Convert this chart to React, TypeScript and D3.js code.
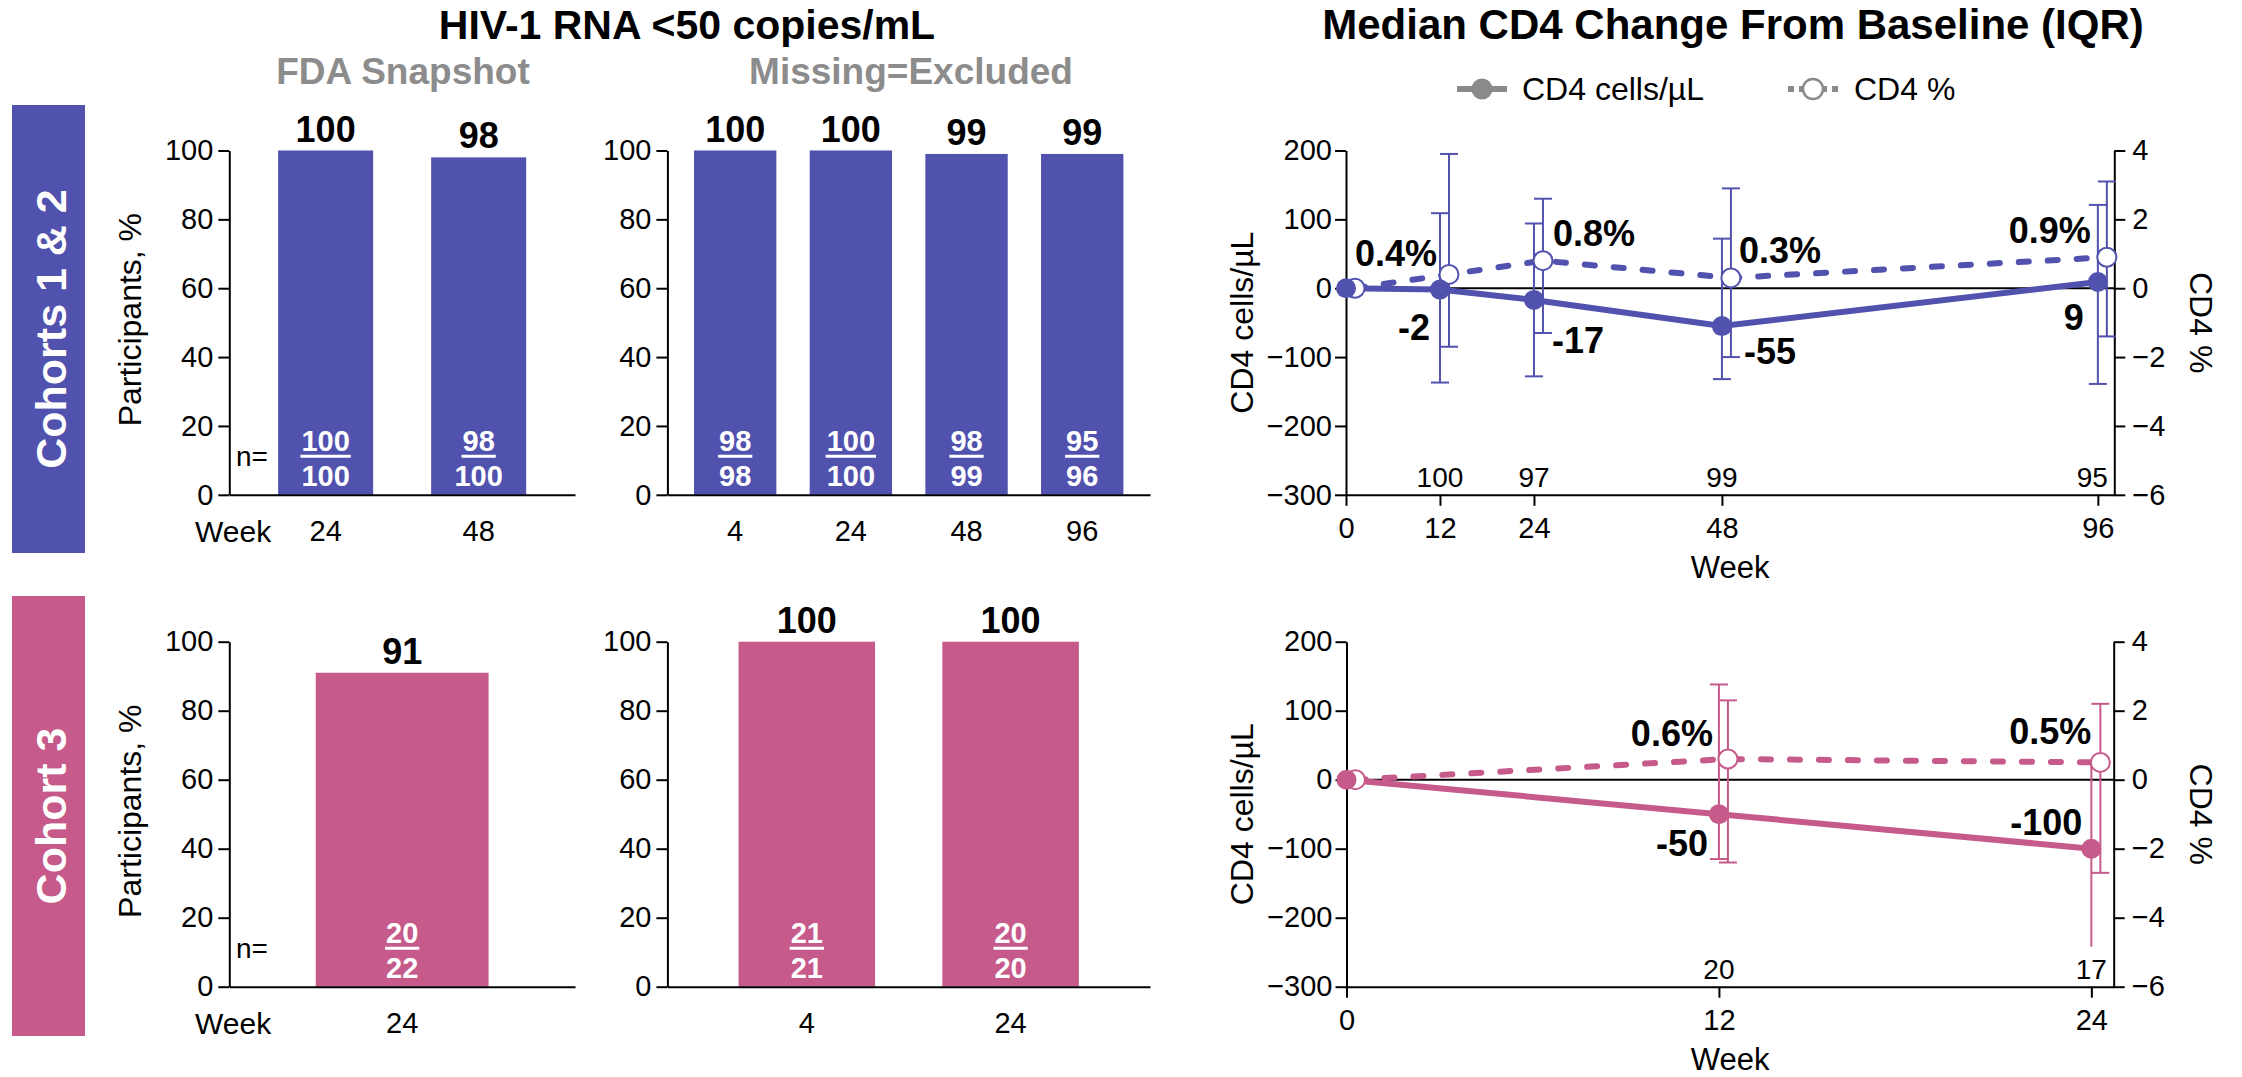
import React, { useEffect, useRef } from "react";
import * as d3 from "d3";

const PURPLE = "#5151ae";
const PINK = "#c65b8b";
const GREY = "#8a8a8a";
const SUB_GREY = "#8c8c8c";
const FONT = "Liberation Sans, Arial, Helvetica, sans-serif";

// ---- HIV-1 RNA <50 copies/mL (bars) ----
const pctTicks = [0, 20, 40, 60, 80, 100];

const fdaWeeks12 = ["24", "48"];
const fdaValues12 = [100, 98];
const fdaNum12 = [100, 98];
const fdaDen12 = [100, 100];

const meWeeks12 = ["4", "24", "48", "96"];
const meValues12 = [100, 100, 99, 99];
const meNum12 = [98, 100, 98, 95];
const meDen12 = [98, 100, 99, 96];

const fdaWeeks3 = ["24"];
const fdaValues3 = [91];
const fdaNum3 = [20];
const fdaDen3 = [22];

const meWeeks3 = ["4", "24"];
const meValues3 = [100, 100];
const meNum3 = [21, 20];
const meDen3 = [21, 20];

// ---- Median CD4 change from baseline (IQR) ----
const cellTicks = [-300, -200, -100, 0, 100, 200];
const cd4PctTicks = [-6, -4, -2, 0, 2, 4];

const cd4Weeks12 = [0, 12, 24, 48, 96];
const cellsMed12 = [0, -2, -17, -55, 9];
const cellsLo12 = [0, -137, -128, -132, -139];
const cellsHi12 = [0, 109, 94, 72, 121];
const cellsCapped12 = [true, true, true, true, true];
const pctMed12 = [0, 0.4, 0.8, 0.3, 0.9];
const pctLo12 = [0, -1.7, -1.3, -2.0, -1.4];
const pctHi12 = [0, 3.9, 2.6, 2.9, 3.1];
const nAt12 = ["", "100", "97", "99", "95"];

const cd4Weeks3 = [0, 12, 24];
const cellsMed3 = [0, -50, -100];
const cellsLo3 = [0, -115, -242];
const cellsHi3 = [0, 138, 26];
const cellsCapped3 = [true, true, false];
const pctMed3 = [0, 0.6, 0.5];
const pctLo3 = [0, -2.4, -2.7];
const pctHi3 = [0, 2.3, 2.2];
const nAt3 = ["", "20", "17"];

// label placement next to markers: [dx, dy, anchor]
type Lab = [number, number, string] | null;
const cellLab12: Lab[] = [null, [-10, 50, "end"], [18, 53, "start"], [22, 38, "start"], [-14, 48, "end"]];
const pctLab12: Lab[] = [null, [-12, -8, "end"], [10, -15, "start"], [8, -15, "start"], [-16, -14, "end"]];
const cellLab3: Lab[] = [null, [-11, 42, "end"], [-9, -14, "end"]];
const pctLab3: Lab[] = [null, [-15, -13, "end"], [-9, -18, "end"]];

function styleAxis(g: any, size = 29) {
  g.attr("font-size", size).attr("font-family", FONT);
  g.selectAll(".domain, .tick line").attr("stroke", "#000").attr("stroke-width", 2);
  g.selectAll("text").attr("fill", "#000");
}

function drawBars(svg: any, c: any) {
  const x = d3.scaleBand().domain(c.cats).range([c.x0, c.x1]).paddingInner(c.pIn).paddingOuter(c.pOut);
  const y = d3.scaleLinear().domain([0, 100]).range([c.yBot, c.yTop]);
  const g = svg.append("g");
  const idx = c.cats.map((_: any, i: number) => i);

  g.append("g").selectAll("rect").data(idx).join("rect")
    .attr("x", (i: number) => x(c.cats[i]))
    .attr("y", (i: number) => y(c.values[i]))
    .attr("width", x.bandwidth())
    .attr("height", (i: number) => c.yBot - y(c.values[i]))
    .attr("fill", c.color);

  const ya = g.append("g").attr("transform", `translate(${c.x0},0)`)
    .call(d3.axisLeft(y).tickValues(pctTicks).tickSize(11).tickSizeOuter(0).tickPadding(5));
  styleAxis(ya);
  const xa = g.append("g").attr("transform", `translate(0,${c.yBot})`)
    .call(d3.axisBottom(x).tickSize(0).tickSizeOuter(0).tickPadding(26));
  styleAxis(xa);

  // values above bars
  g.append("g").selectAll("text").data(idx).join("text")
    .attr("x", (i: number) => x(c.cats[i])! + x.bandwidth() / 2)
    .attr("y", (i: number) => y(c.values[i]) - 9)
    .attr("text-anchor", "middle").attr("font-family", FONT)
    .attr("font-weight", "bold").attr("font-size", 36)
    .text((i: number) => c.values[i]);

  // n fractions inside bars
  const fr = g.append("g").attr("font-family", FONT).attr("font-weight", "bold")
    .attr("font-size", 29).attr("fill", "#fff").attr("text-anchor", "middle");
  idx.forEach((i: number) => {
    const cx = x(c.cats[i])! + x.bandwidth() / 2;
    const t = fr.append("text").attr("x", cx).attr("y", c.yBot - 44).text(c.num[i]);
    const w = (t.node() as SVGTextElement).getComputedTextLength();
    fr.append("line").attr("x1", cx - w / 2 - 1).attr("x2", cx + w / 2 + 1)
      .attr("y1", c.yBot - 38.5).attr("y2", c.yBot - 38.5)
      .attr("stroke", "#fff").attr("stroke-width", 3);
    fr.append("text").attr("x", cx).attr("y", c.yBot - 9).text(c.den[i]);
  });

  if (c.showWeek) {
    g.append("text").attr("x", 236).attr("y", c.yBot - 29)
      .attr("font-family", FONT).attr("font-size", 28).text("n=");
    g.append("text").attr("x", 195).attr("y", c.yBot + 47)
      .attr("font-family", FONT).attr("font-size", 30).text("Week");
  }
}

function drawCD4(svg: any, c: any) {
  const x = d3.scaleLinear().domain([0, c.xMax]).range([c.x0, c.x1]);
  const yc = d3.scaleLinear().domain([-300, 200]).range([c.yBot, c.yTop]);
  const yp = d3.scaleLinear().domain([-6, 4]).range([c.yBot, c.yTop]);
  const off = 9;
  const g = svg.append("g");
  const idx = c.weeks.map((_: any, i: number) => i);

  const la = g.append("g").attr("transform", `translate(${c.x0},0)`)
    .call(d3.axisLeft(yc).tickValues(cellTicks).tickSize(11).tickSizeOuter(0).tickPadding(3));
  styleAxis(la);
  const ra = g.append("g").attr("transform", `translate(${c.x1},0)`)
    .call(d3.axisRight(yp).tickValues(cd4PctTicks).tickSize(11).tickSizeOuter(0).tickPadding(7));
  styleAxis(ra);
  const xa = g.append("g").attr("transform", `translate(0,${c.yBot})`)
    .call(d3.axisBottom(x).tickValues(c.weeks).tickSize(11).tickSizeOuter(0).tickPadding(12));
  styleAxis(xa);

  g.append("line").attr("x1", c.x0).attr("x2", c.x1).attr("y1", yc(0)).attr("y2", yc(0))
    .attr("stroke", "#000").attr("stroke-width", 2);

  // n at each visit
  g.append("g").selectAll("text").data(idx).join("text")
    .attr("x", (i: number) => Math.min(x(c.weeks[i]), c.x1 - 22))
    .attr("y", c.yBot - 8)
    .attr("text-anchor", "middle").attr("font-family", FONT).attr("font-size", 28)
    .text((i: number) => c.nAt[i]);

  // lines
  g.append("path").datum(idx)
    .attr("d", d3.line<number>().x((i) => x(c.weeks[i]) + off).y((i) => yp(c.pMed[i])))
    .attr("fill", "none").attr("stroke", c.color).attr("stroke-width", 6)
    .attr("stroke-dasharray", "10 19").attr("stroke-linecap", "round");
  g.append("path").datum(idx)
    .attr("d", d3.line<number>().x((i) => x(c.weeks[i])).y((i) => yc(c.cMed[i])))
    .attr("fill", "none").attr("stroke", c.color).attr("stroke-width", 6);

  // IQR bars
  const eb = g.append("g").attr("stroke", c.color).attr("stroke-width", 2);
  idx.forEach((i: number) => {
    if (c.cLo[i] !== c.cHi[i]) {
      const xx = x(c.weeks[i]);
      eb.append("line").attr("x1", xx).attr("x2", xx).attr("y1", yc(c.cLo[i])).attr("y2", yc(c.cHi[i]));
      if (c.cCap[i]) {
        [c.cLo[i], c.cHi[i]].forEach((v: number) =>
          eb.append("line").attr("x1", xx - 9).attr("x2", xx + 9).attr("y1", yc(v)).attr("y2", yc(v)));
      }
    }
    if (c.pLo[i] !== c.pHi[i]) {
      const xx = x(c.weeks[i]) + off;
      eb.append("line").attr("x1", xx).attr("x2", xx).attr("y1", yp(c.pLo[i])).attr("y2", yp(c.pHi[i]));
      [c.pLo[i], c.pHi[i]].forEach((v: number) =>
        eb.append("line").attr("x1", xx - 9).attr("x2", xx + 9).attr("y1", yp(v)).attr("y2", yp(v)));
    }
  });

  // markers
  g.append("g").selectAll("circle").data(idx).join("circle")
    .attr("cx", (i: number) => x(c.weeks[i]) + off).attr("cy", (i: number) => yp(c.pMed[i]))
    .attr("r", 9.5).attr("fill", "#fff").attr("stroke", c.color).attr("stroke-width", 2);
  g.append("g").selectAll("circle").data(idx).join("circle")
    .attr("cx", (i: number) => x(c.weeks[i])).attr("cy", (i: number) => yc(c.cMed[i]))
    .attr("r", 10).attr("fill", c.color);

  // value labels
  const lg = g.append("g").attr("font-family", FONT).attr("font-weight", "bold").attr("font-size", 36);
  idx.forEach((i: number) => {
    const a = c.cLab[i];
    if (a) lg.append("text").attr("x", x(c.weeks[i]) + a[0]).attr("y", yc(c.cMed[i]) + a[1])
      .attr("text-anchor", a[2]).text(String(c.cMed[i]));
    const b = c.pLab[i];
    if (b) lg.append("text").attr("x", x(c.weeks[i]) + off + b[0]).attr("y", yp(c.pMed[i]) + b[1])
      .attr("text-anchor", b[2]).text(`${c.pMed[i]}%`);
  });

  // axis titles
  const cy = (c.yTop + c.yBot) / 2;
  g.append("text").attr("transform", `translate(1253,${cy}) rotate(-90)`)
    .attr("text-anchor", "middle").attr("font-family", FONT).attr("font-size", 32).text("CD4 cells/µL");
  g.append("text").attr("transform", `translate(2190,${cy}) rotate(90)`)
    .attr("text-anchor", "middle").attr("font-family", FONT).attr("font-size", 32).text("CD4 %");
  g.append("text").attr("x", (c.x0 + c.x1) / 2).attr("y", c.yBot + 83)
    .attr("text-anchor", "middle").attr("font-family", FONT).attr("font-size", 31).text("Week");
}

export default function App() {
  const ref = useRef<SVGSVGElement>(null);

  useEffect(() => {
    const svg = d3.select(ref.current);
    svg.selectAll("*").remove();

    const R1 = { yTop: 150.5, yBot: 494.8 };
    const R2 = { yTop: 641.7, yBot: 986.7 };

    // titles
    svg.append("text").attr("x", 687).attr("y", 39).attr("text-anchor", "middle")
      .attr("font-family", FONT).attr("font-weight", "bold").attr("font-size", 41)
      .text("HIV-1 RNA <50 copies/mL");
    svg.append("text").attr("x", 403).attr("y", 84).attr("text-anchor", "middle")
      .attr("font-family", FONT).attr("font-weight", "bold").attr("font-size", 37)
      .attr("fill", SUB_GREY).text("FDA Snapshot");
    svg.append("text").attr("x", 911).attr("y", 84).attr("text-anchor", "middle")
      .attr("font-family", FONT).attr("font-weight", "bold").attr("font-size", 37)
      .attr("fill", SUB_GREY).text("Missing=Excluded");
    svg.append("text").attr("x", 1733).attr("y", 39).attr("text-anchor", "middle")
      .attr("font-family", FONT).attr("font-weight", "bold").attr("font-size", 42)
      .text("Median CD4 Change From Baseline (IQR)");

    // legend
    const lgd = svg.append("g");
    lgd.append("line").attr("x1", 1457).attr("x2", 1507).attr("y1", 89).attr("y2", 89)
      .attr("stroke", GREY).attr("stroke-width", 6);
    lgd.append("circle").attr("cx", 1482).attr("cy", 89).attr("r", 10.5).attr("fill", GREY);
    lgd.append("text").attr("x", 1522).attr("y", 100).attr("font-family", FONT)
      .attr("font-size", 32).text("CD4 cells/µL");
    lgd.append("line").attr("x1", 1788).attr("x2", 1838).attr("y1", 89).attr("y2", 89)
      .attr("stroke", GREY).attr("stroke-width", 6).attr("stroke-dasharray", "6 5");
    lgd.append("circle").attr("cx", 1813).attr("cy", 89).attr("r", 10).attr("fill", "#fff")
      .attr("stroke", GREY).attr("stroke-width", 2.5);
    lgd.append("text").attr("x", 1854).attr("y", 100).attr("font-family", FONT)
      .attr("font-size", 32).text("CD4 %");

    // cohort bands
    const bands = [
      { y0: 105, y1: 553, color: PURPLE, label: "Cohorts 1 & 2" },
      { y0: 596, y1: 1036, color: PINK, label: "Cohort 3" },
    ];
    bands.forEach((b) => {
      svg.append("rect").attr("x", 12).attr("y", b.y0).attr("width", 73).attr("height", b.y1 - b.y0)
        .attr("fill", b.color);
      svg.append("text").attr("transform", `translate(66,${(b.y0 + b.y1) / 2}) rotate(-90)`)
        .attr("text-anchor", "middle").attr("font-family", FONT).attr("font-weight", "bold")
        .attr("font-size", 43).attr("fill", "#fff").text(b.label);
    });

    // y titles for bars
    [R1, R2].forEach((r) => {
      svg.append("text").attr("transform", `translate(141,${(r.yTop + r.yBot) / 2 - 3}) rotate(-90)`)
        .attr("text-anchor", "middle").attr("font-family", FONT).attr("font-size", 32)
        .text("Participants, %");
    });

    drawBars(svg, { ...R1, x0: 229.3, x1: 575, cats: fdaWeeks12, values: fdaValues12, num: fdaNum12,
      den: fdaDen12, color: PURPLE, pIn: 0.379, pOut: 0.319, showWeek: true });
    drawBars(svg, { ...R1, x0: 667.4, x1: 1150, cats: meWeeks12, values: meValues12, num: meNum12,
      den: meDen12, color: PURPLE, pIn: 0.288, pOut: 0.23, showWeek: false });
    drawBars(svg, { ...R2, x0: 229.3, x1: 575, cats: fdaWeeks3, values: fdaValues3, num: fdaNum3,
      den: fdaDen3, color: PINK, pIn: 1 / 3, pOut: 1 / 3, showWeek: true });
    drawBars(svg, { ...R2, x0: 667.4, x1: 1150, cats: meWeeks3, values: meValues3, num: meNum3,
      den: meDen3, color: PINK, pIn: 0.33, pOut: 0.349, showWeek: false });

    drawCD4(svg, { ...R1, x0: 1346, x1: 2114.3, xMax: 98.1, weeks: cd4Weeks12,
      cMed: cellsMed12, cLo: cellsLo12, cHi: cellsHi12, cCap: cellsCapped12,
      pMed: pctMed12, pLo: pctLo12, pHi: pctHi12, nAt: nAt12, color: PURPLE,
      cLab: cellLab12, pLab: pctLab12 });
    drawCD4(svg, { ...R2, x0: 1346.5, x1: 2113.7, xMax: 24.72, weeks: cd4Weeks3,
      cMed: cellsMed3, cLo: cellsLo3, cHi: cellsHi3, cCap: cellsCapped3,
      pMed: pctMed3, pLo: pctLo3, pHi: pctHi3, nAt: nAt3, color: PINK,
      cLab: cellLab3, pLab: pctLab3 });
  }, []);

  return (
    <div style={{ position: "absolute", left: 0, top: 0 }}>
      <svg ref={ref} width={2242} height={1077} style={{ display: "block", background: "#fff" }} />
    </div>
  );
}
